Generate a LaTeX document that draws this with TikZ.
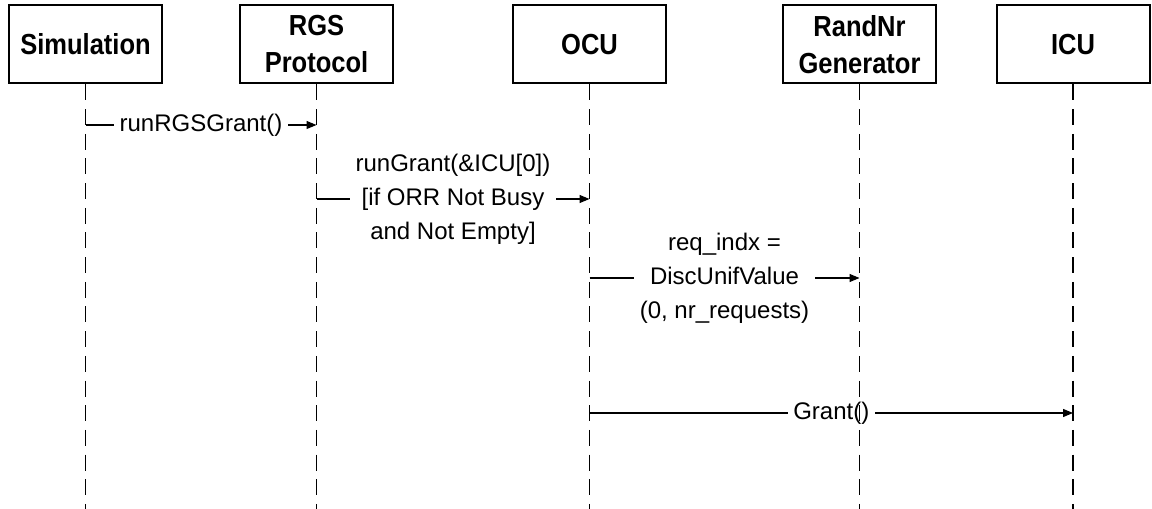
\documentclass[tikz,border=0pt]{standalone}
\usepackage{fontspec}
\setmainfont{Liberation Sans}
\newfontfamily\objfont{Liberation Sans}[FakeStretch=0.88]
\usetikzlibrary{arrows.meta}

\tikzset{
	object/.style={draw, line width=1.5pt, minimum width=114.75pt, minimum height=58.5pt,
		inner sep=0pt, align=center, font=\objfont\bfseries\fontsize{21.75}{27.75}\selectfont},
	lifeline/.style={line width=1.1pt, dash pattern=on 12pt off 6.5pt},
	msg/.style={line width=0.9pt, -{Triangle[length=7.5pt,width=6pt]}},
	msglabel/.style={fill=white, inner xsep=4pt, inner ysep=2pt, align=center,
		font=\fontsize{18}{25.5}\selectfont}}
\tikzset{every picture/.style={line width=0.75pt}}

\begin{document}
\begin{tikzpicture}[x=0.75pt,y=0.75pt,yscale=-1,xscale=1]
	\useasboundingbox (0,0) rectangle (1152,509);

	% Objects
	\node [object] (sim) at (85.5,44.5) {Simulation};
	\node [object] (rgs) at (316.5,44.5) {RGS\\Protocol};
	\node [object] (ocu) at (589.5,44.5) {OCU};
	\node [object] (rnd) at (859.5,44.5) {RandNr\\Generator};
	\node [object] (icu) at (1073,44.5) {ICU};

	% Lifeline ends
	\coordinate (simEnd) at (sim.south |- 0,509);
	\coordinate (rgsEnd) at (rgs.south |- 0,509);
	\coordinate (ocuEnd) at (ocu.south |- 0,509);
	\coordinate (rndEnd) at (rnd.south |- 0,509);
	\coordinate (icuEnd) at (icu.south |- 0,509);

	% Message points
	\coordinate (sim1) at (sim.south |- 0,125);
	\coordinate (rgs1) at (rgs.south |- 0,125);
	\coordinate (rgs2) at (rgs.south |- 0,199);
	\coordinate (ocu2) at (ocu.south |- 0,199);
	\coordinate (ocu3) at (ocu.south |- 0,278);
	\coordinate (rnd3) at (rnd.south |- 0,278);
	\coordinate (ocu4) at (ocu.south |- 0,413);
	\coordinate (icu4) at (icu.south |- 0,413);

	% Messages
	\draw [msg] (sim1) -- node [msglabel] {runRGSGrant()} (rgs1);
	\draw [msg] (rgs2) -- node [msglabel] {runGrant(\&ICU[0])\\{[}if ORR Not Busy\\and Not Empty]} (ocu2);
	\draw [msg] (ocu3) -- node [msglabel] {req\_indx =\\DiscUnifValue\\(0, nr\_requests)} (rnd3);
	\draw [msg] (ocu4) -- node [msglabel] {Grant()} (icu4);

	% Lifelines
	\draw [lifeline] (sim.south) -- (simEnd);
	\draw [lifeline] (rgs.south) -- (rgsEnd);
	\draw [lifeline] (ocu.south) -- (ocuEnd);
	\draw [lifeline] (rnd.south) -- (rndEnd);
	\draw [lifeline] (icu.south) -- (icuEnd);

\end{tikzpicture}
\end{document}
